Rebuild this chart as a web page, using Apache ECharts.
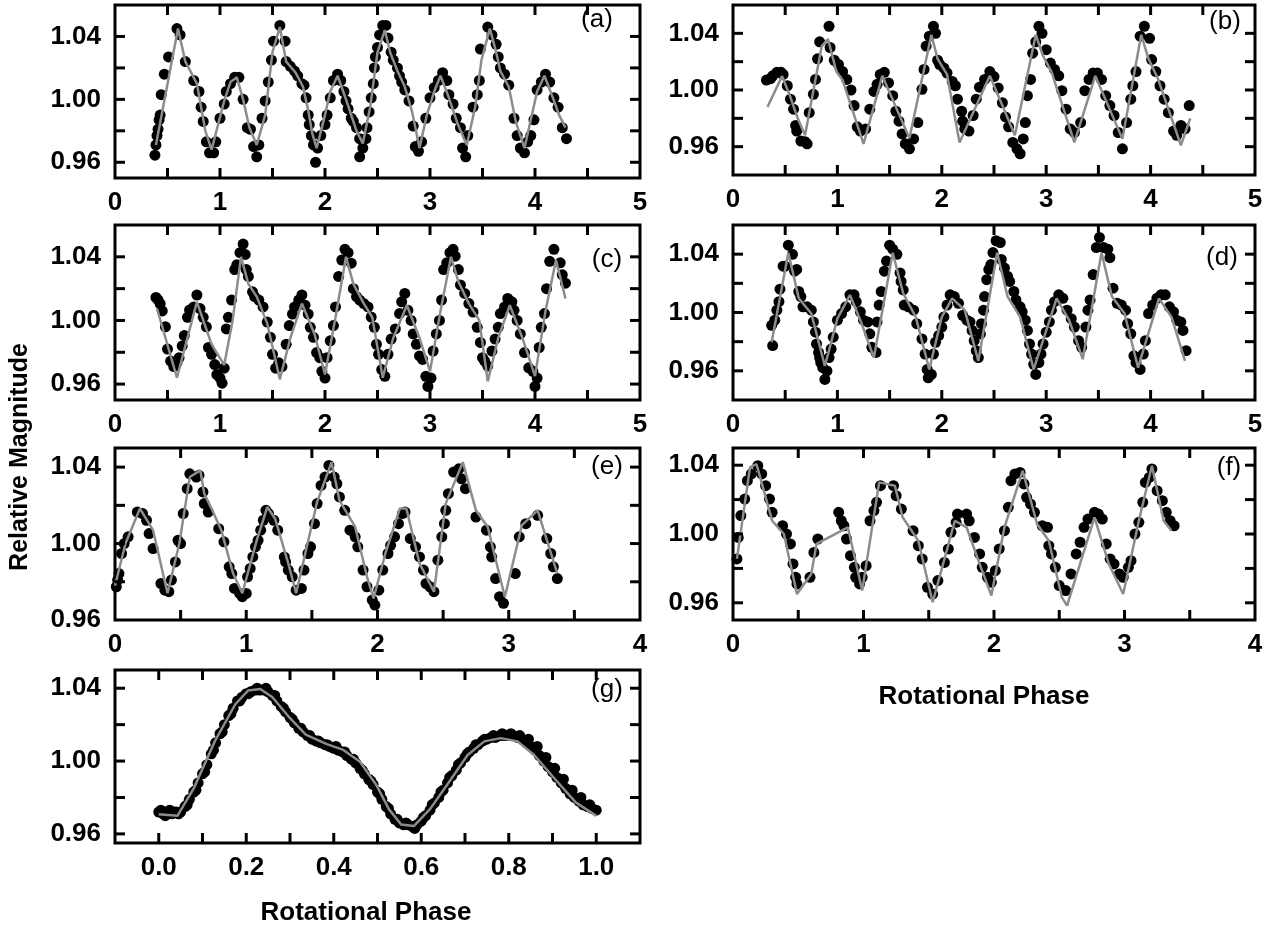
<!DOCTYPE html>
<html><head><meta charset="utf-8">
<script src="https://cdn.jsdelivr.net/npm/echarts@6/dist/echarts.min.js"></script>
<style>html,body{margin:0;padding:0;background:#fff}#c{width:1272px;height:928px}</style>
</head><body><div id="c"></div>
<script>
// ---------- DATA ----------
const aDots=[[0.38,0.9645],[0.39,0.971],[0.40,0.977],[0.41,0.981],[0.42,0.987],[0.43,0.990],[0.44,1.003],[0.47,1.016],[0.51,1.027],[0.59,1.045],[0.62,1.041],[0.67,1.024],[0.75,1.012],[0.80,1.005],[0.82,0.995],[0.84,0.986],[0.87,0.973],[0.90,0.966],[0.94,0.966],[0.96,0.973],[1.00,0.988],[1.04,0.997],[1.06,1.005],[1.10,1.010],[1.14,1.014],[1.18,1.014],[1.22,1.000],[1.26,0.982],[1.29,0.981],[1.32,0.970],[1.35,0.9635],[1.37,0.971],[1.40,0.988],[1.43,0.999],[1.46,1.011],[1.49,1.025],[1.51,1.037],[1.57,1.047],[1.62,1.037],[1.63,1.024],[1.67,1.021],[1.71,1.018],[1.74,1.015],[1.78,1.010],[1.80,1.009],[1.82,1.001],[1.84,0.990],[1.85,0.984],[1.87,0.977],[1.89,0.971],[1.91,0.960],[1.93,0.969],[1.96,0.977],[2.00,0.984],[2.02,0.990],[2.05,1.001],[2.08,1.012],[2.12,1.016],[2.15,1.012],[2.18,1.005],[2.20,0.999],[2.22,0.994],[2.25,0.988],[2.27,0.986],[2.30,0.982],[2.33,0.975],[2.33,0.9635],[2.36,0.969],[2.39,0.975],[2.40,0.982],[2.42,0.992],[2.44,1.001],[2.46,1.010],[2.47,1.020],[2.48,1.027],[2.50,1.033],[2.52,1.041],[2.55,1.047],[2.58,1.047],[2.60,1.039],[2.63,1.030],[2.65,1.025],[2.69,1.020],[2.71,1.015],[2.73,1.011],[2.76,1.006],[2.80,0.999],[2.84,0.983],[2.86,0.970],[2.89,0.967],[2.92,0.973],[2.96,0.988],[3.00,1.001],[3.04,1.0075],[3.08,1.012],[3.12,1.017],[3.16,1.012],[3.18,1.003],[3.22,0.997],[3.25,0.988],[3.29,0.982],[3.31,0.969],[3.34,0.9635],[3.36,0.977],[3.41,0.995],[3.45,1.003],[3.47,1.012],[3.48,1.032],[3.55,1.046],[3.59,1.041],[3.63,1.035],[3.65,1.027],[3.67,1.020],[3.71,1.016],[3.75,1.009],[3.80,0.988],[3.83,0.977],[3.86,0.969],[3.90,0.966],[3.93,0.973],[3.96,0.977],[3.99,0.987],[4.02,1.006],[4.06,1.011],[4.10,1.016],[4.14,1.011],[4.18,1.001],[4.22,0.995],[4.26,0.982],[4.30,0.975]];
const aFit=[[0.39,0.971],[0.6,1.045],[0.67,1.024],[0.78,1.01],[0.86,0.98],[0.92,0.968],[1.04,0.999],[1.1,1.011],[1.16,1.014],[1.22,1.0],[1.28,0.982],[1.35,0.971],[1.43,0.99],[1.5,1.03],[1.57,1.046],[1.63,1.024],[1.72,1.017],[1.79,1.008],[1.84,0.993],[1.88,0.978],[1.92,0.969],[2.0,0.99],[2.05,1.005],[2.12,1.015],[2.2,1.0],[2.26,0.988],[2.3,0.98],[2.36,0.972],[2.43,0.995],[2.5,1.03],[2.57,1.044],[2.62,1.03],[2.69,1.018],[2.76,1.008],[2.83,0.992],[2.9,0.969],[2.97,0.99],[3.04,1.005],[3.1,1.015],[3.18,1.001],[3.26,0.985],[3.35,0.971],[3.43,0.995],[3.49,1.025],[3.57,1.045],[3.63,1.03],[3.67,1.018],[3.75,1.008],[3.82,0.985],[3.9,0.969],[3.97,0.99],[4.02,1.005],[4.09,1.015],[4.17,1.001],[4.23,0.99],[4.29,0.982]];

const bDots=[[0.32,1.007],[0.36,1.008],[0.38,1.010],[0.42,1.0125],[0.46,1.0125],[0.48,1.011],[0.52,1.003],[0.55,0.9935],[0.58,0.9865],[0.60,0.975],[0.61,0.971],[0.65,0.964],[0.69,0.9635],[0.71,0.962],[0.73,0.984],[0.77,0.997],[0.79,1.0075],[0.81,1.022],[0.83,1.034],[0.92,1.045],[0.93,1.030],[0.97,1.021],[1.01,1.018],[1.05,1.013],[1.09,1.0075],[1.13,1.0],[1.16,0.989],[1.19,0.974],[1.22,0.971],[1.27,0.9725],[1.31,0.9865],[1.35,0.999],[1.38,1.004],[1.41,1.011],[1.45,1.0125],[1.49,1.005],[1.53,0.996],[1.56,0.985],[1.59,0.978],[1.62,0.969],[1.65,0.962],[1.69,0.9585],[1.73,0.9655],[1.77,0.977],[1.81,1.0005],[1.83,1.0145],[1.85,1.031],[1.88,1.038],[1.92,1.045],[1.94,1.040],[1.96,1.021],[1.98,1.018],[2.02,1.0155],[2.05,1.012],[2.10,1.006],[2.13,1.003],[2.15,0.9935],[2.19,0.985],[2.20,0.978],[2.22,0.9725],[2.26,0.971],[2.30,0.982],[2.33,0.9935],[2.36,1.002],[2.41,1.0075],[2.46,1.013],[2.50,1.0095],[2.54,1.0015],[2.58,0.991],[2.61,0.981],[2.64,0.974],[2.68,0.963],[2.72,0.9585],[2.75,0.955],[2.78,0.9655],[2.80,0.977],[2.82,0.996],[2.85,1.0075],[2.87,1.026],[2.90,1.034],[2.93,1.045],[2.96,1.040],[3.00,1.0285],[3.04,1.019],[3.08,1.0145],[3.12,1.010],[3.15,0.9995],[3.19,0.9865],[3.23,0.9725],[3.27,0.970],[3.33,0.977],[3.37,0.9995],[3.41,1.0075],[3.45,1.012],[3.49,1.012],[3.53,1.0075],[3.57,0.996],[3.61,0.989],[3.65,0.982],[3.69,0.970],[3.73,0.9585],[3.77,0.977],[3.81,0.9935],[3.83,1.003],[3.86,1.013],[3.90,1.038],[3.94,1.045],[3.99,1.0365],[4.01,1.0215],[4.05,1.013],[4.09,1.003],[4.13,0.9935],[4.17,0.984],[4.22,0.971],[4.25,0.968],[4.29,0.975],[4.33,0.9725],[4.37,0.989]];
const bFit=[[0.33,0.988],[0.47,1.0098],[0.55,0.995],[0.62,0.98],[0.69,0.968],[0.85,1.031],[0.91,1.036],[0.99,1.013],[1.05,1.007],[1.25,0.962],[1.43,1.01],[1.69,0.966],[1.9,1.039],[1.96,1.022],[2.05,1.011],[2.17,0.963],[2.46,1.01],[2.7,0.968],[2.9,1.039],[2.97,1.024],[3.05,1.013],[3.27,0.963],[3.47,1.01],[3.73,0.9655],[3.91,1.039],[3.98,1.022],[4.07,1.008],[4.29,0.961],[4.38,0.98]];

const cDots=[[0.39,1.0145],[0.41,1.013],[0.43,1.0105],[0.45,1.006],[0.48,0.996],[0.50,0.982],[0.53,0.9745],[0.56,0.971],[0.59,0.9735],[0.61,0.9765],[0.64,0.984],[0.66,0.9905],[0.69,1.002],[0.71,1.0065],[0.75,1.0085],[0.78,1.016],[0.81,1.0075],[0.84,1.002],[0.87,0.996],[0.89,0.983],[0.92,0.9787],[0.95,0.9723],[0.97,0.966],[1.00,0.9638],[1.02,0.9606],[1.04,0.970],[1.06,0.9947],[1.08,1.002],[1.11,1.0128],[1.14,1.032],[1.16,1.035],[1.19,1.0426],[1.22,1.048],[1.24,1.0415],[1.25,1.032],[1.27,1.0277],[1.31,1.018],[1.33,1.015],[1.37,1.0128],[1.41,1.0085],[1.45,0.999],[1.48,0.9894],[1.50,0.9787],[1.53,0.970],[1.56,0.9734],[1.59,0.971],[1.63,0.985],[1.66,0.9968],[1.69,1.004],[1.71,1.0085],[1.75,1.0128],[1.78,1.016],[1.81,1.0096],[1.84,1.004],[1.86,0.9957],[1.89,0.9894],[1.92,0.9798],[1.95,0.9766],[1.97,0.968],[2.0,0.9638],[2.02,0.9766],[2.05,0.9872],[2.08,0.9968],[2.10,1.0085],[2.13,1.0277],[2.16,1.038],[2.19,1.0447],[2.22,1.0426],[2.25,1.036],[2.27,1.02],[2.30,1.015],[2.33,1.0128],[2.37,1.0106],[2.41,1.0085],[2.44,1.0021],[2.47,0.9957],[2.49,0.985],[2.51,0.9787],[2.54,0.9691],[2.57,0.9649],[2.60,0.9787],[2.63,0.9883],[2.67,0.9947],[2.71,1.0043],[2.73,1.0117],[2.76,1.017],[2.79,1.0064],[2.82,1.0],[2.84,0.9915],[2.87,0.985],[2.90,0.9777],[2.93,0.9755],[2.96,0.9649],[2.98,0.9585],[3.01,0.9638],[3.03,0.9808],[3.06,0.9915],[3.09,1.0],[3.11,1.0128],[3.13,1.032],[3.16,1.0362],[3.19,1.0426],[3.22,1.0447],[3.24,1.0404],[3.27,1.032],[3.29,1.0223],[3.33,1.017],[3.37,1.0106],[3.41,1.0053],[3.45,0.9957],[3.48,0.9862],[3.50,0.9766],[3.52,0.9745],[3.55,0.9713],[3.59,0.9808],[3.62,0.9883],[3.65,0.9957],[3.67,1.0043],[3.71,1.0085],[3.74,1.0138],[3.78,1.0117],[3.80,1.0064],[3.83,1.0],[3.86,0.9915],[3.90,0.9798],[3.94,0.9702],[3.98,0.968],[4.0,0.9585],[4.02,0.9638],[4.04,0.983],[4.06,0.9957],[4.09,1.0043],[4.11,1.02],[4.14,1.0372],[4.18,1.0447],[4.24,1.0362],[4.26,1.0287],[4.29,1.0234]];
const cFit=[[0.40,1.0075],[0.59,0.964],[0.78,1.0117],[0.92,0.985],[1.04,0.972],[1.12,1.0],[1.2,1.04],[1.27,1.023],[1.35,1.015],[1.45,0.998],[1.57,0.963],[1.67,0.989],[1.78,1.0106],[1.9,0.9915],[2.0,0.966],[2.1,1.002],[2.2,1.04],[2.27,1.023],[2.37,1.0106],[2.45,1.002],[2.55,0.964],[2.65,0.989],[2.78,1.0096],[2.9,0.989],[3.0,0.968],[3.1,1.006],[3.2,1.04],[3.27,1.0245],[3.37,1.0106],[3.47,1.0],[3.55,0.9617],[3.65,0.989],[3.76,1.0096],[3.88,0.989],[4.0,0.965],[4.1,1.006],[4.2,1.038],[4.29,1.0138]];

const dDots=[[0.37,0.9912],[0.38,0.9773],[0.40,0.9947],[0.42,1.0016],[0.44,1.0074],[0.45,1.016],[0.48,1.0318],[0.50,1.0318],[0.53,1.0462],[0.57,1.0399],[0.59,1.0283],[0.61,1.0295],[0.63,1.0144],[0.65,1.0109],[0.67,1.0039],[0.71,1.0039],[0.75,1.0016],[0.77,0.9935],[0.79,0.9865],[0.80,0.9784],[0.82,0.9726],[0.83,0.9691],[0.84,0.9657],[0.86,0.9622],[0.88,0.9541],[0.90,0.9599],[0.92,0.9691],[0.94,0.9749],[0.96,0.9831],[1.0,0.9947],[1.04,0.9993],[1.08,1.0039],[1.12,1.0121],[1.16,1.0121],[1.18,1.0074],[1.22,1.0005],[1.25,0.9947],[1.29,0.9935],[1.31,0.9854],[1.33,0.9761],[1.37,0.9726],[1.38,0.9935],[1.40,1.0051],[1.42,1.0144],[1.45,1.0283],[1.47,1.0353],[1.50,1.0462],[1.53,1.0434],[1.57,1.0399],[1.60,1.0271],[1.61,1.0213],[1.63,1.0155],[1.64,1.0051],[1.68,1.0039],[1.73,1.0016],[1.76,0.9923],[1.81,0.9819],[1.84,0.9715],[1.86,0.961],[1.87,0.9552],[1.90,0.9575],[1.92,0.9715],[1.94,0.9796],[1.97,0.9842],[2.0,0.99],[2.02,0.997],[2.05,1.0051],[2.08,1.0121],[2.12,1.0109],[2.16,1.0063],[2.20,0.9981],[2.24,0.9947],[2.27,0.9935],[2.29,0.9877],[2.31,0.9807],[2.33,0.9738],[2.35,0.9691],[2.37,0.9854],[2.38,0.9923],[2.40,1.0016],[2.41,1.0109],[2.43,1.0225],[2.45,1.0295],[2.47,1.0329],[2.49,1.0411],[2.52,1.0492],[2.56,1.048],[2.57,1.0364],[2.60,1.0306],[2.63,1.0248],[2.65,1.0213],[2.69,1.0144],[2.71,1.0086],[2.75,1.0039],[2.77,1.0005],[2.80,0.9947],[2.82,0.9877],[2.84,0.9784],[2.86,0.9715],[2.88,0.9645],[2.90,0.9575],[2.93,0.9657],[2.95,0.9715],[2.97,0.9784],[3.0,0.9865],[3.03,0.9935],[3.05,1.0016],[3.08,1.0074],[3.12,1.0121],[3.16,1.0097],[3.20,1.0016],[3.24,0.9958],[3.27,0.99],[3.31,0.9807],[3.34,0.9761],[3.38,0.99],[3.40,1.0016],[3.42,1.0086],[3.45,1.026],[3.48,1.0445],[3.51,1.0515],[3.55,1.0445],[3.59,1.0434],[3.61,1.0376],[3.64,1.0167],[3.68,1.0063],[3.72,1.0051],[3.76,1.0016],[3.78,0.9923],[3.81,0.9854],[3.84,0.9703],[3.86,0.9657],[3.90,0.961],[3.93,0.9715],[3.95,0.9807],[3.98,0.9993],[4.02,1.0051],[4.06,1.0097],[4.10,1.0121],[4.14,1.0121],[4.18,1.0039],[4.22,1.0005],[4.25,0.9947],[4.29,0.9935],[4.31,0.9877],[4.34,0.9738]];
const dFit=[[0.37,0.9796],[0.53,1.041],[0.63,1.0097],[0.75,0.9993],[0.88,0.9633],[1.0,0.9958],[1.12,1.012],[1.22,0.9947],[1.35,0.9691],[1.53,1.041],[1.63,1.0132],[1.75,0.997],[1.88,0.961],[2.0,0.997],[2.1,1.0097],[2.22,1.0016],[2.35,0.9668],[2.53,1.041],[2.63,1.0109],[2.75,0.997],[2.88,0.961],[3.1,1.0097],[3.22,0.9947],[3.35,0.968],[3.53,1.041],[3.63,1.0109],[3.75,0.9993],[3.88,0.9622],[4.08,1.0097],[4.2,0.997],[4.33,0.9668]];

const eDots=[[0.01,0.9774],[0.02,0.9809],[0.03,0.9843],[0.05,0.9948],[0.07,1.0],[0.10,1.0035],[0.17,1.0165],[0.21,1.0157],[0.24,1.0122],[0.26,1.0052],[0.29,0.9974],[0.35,0.9791],[0.38,0.9756],[0.41,0.9748],[0.43,0.9809],[0.46,0.9904],[0.48,1.0017],[0.50,1.0],[0.52,1.0157],[0.55,1.0287],[0.57,1.0365],[0.62,1.0348],[0.64,1.0357],[0.67,1.027],[0.68,1.0209],[0.71,1.0165],[0.79,1.0078],[0.83,1.0009],[0.87,0.9878],[0.89,0.9843],[0.91,0.9765],[0.95,0.9739],[0.97,0.9722],[1.0,0.9739],[1.01,0.9826],[1.03,0.987],[1.05,0.993],[1.07,0.9983],[1.09,1.0017],[1.11,1.007],[1.13,1.0122],[1.15,1.0174],[1.17,1.0157],[1.21,1.0122],[1.24,1.007],[1.29,0.993],[1.30,0.9904],[1.32,0.9861],[1.35,0.9826],[1.38,0.9756],[1.42,0.9765],[1.44,0.9861],[1.47,0.9948],[1.49,0.9983],[1.52,1.0104],[1.54,1.0209],[1.57,1.0304],[1.60,1.0348],[1.63,1.0409],[1.67,1.0348],[1.69,1.0313],[1.71,1.0244],[1.75,1.0174],[1.79,1.007],[1.83,1.0035],[1.85,0.9983],[1.89,0.9861],[1.92,0.9774],[1.96,0.9704],[1.98,0.9678],[2.01,0.9756],[2.04,0.9861],[2.08,0.9948],[2.10,0.9991],[2.13,1.0035],[2.16,1.0104],[2.19,1.0157],[2.21,1.0165],[2.25,1.0026],[2.29,0.9983],[2.32,0.993],[2.35,0.9861],[2.37,0.9791],[2.40,0.9774],[2.43,0.9748],[2.46,0.9913],[2.49,1.0035],[2.51,1.0104],[2.52,1.0174],[2.54,1.0261],[2.58,1.0374],[2.62,1.0391],[2.64,1.0339],[2.67,1.0287],[2.75,1.0139],[2.83,1.007],[2.86,0.9983],[2.87,0.993],[2.90,0.9817],[2.93,0.9722],[2.96,0.9687],[3.05,0.9843],[3.08,1.0035],[3.13,1.0104],[3.22,1.0148],[3.29,1.0026],[3.32,0.9948],[3.34,0.9878],[3.37,0.9817]];
const eFit=[[0.0,0.978],[0.08,1.0],[0.19,1.0183],[0.29,1.007],[0.40,0.974],[0.49,1.0],[0.57,1.0348],[0.65,1.0383],[0.68,1.0261],[0.73,1.0191],[0.81,1.007],[0.90,0.9843],[0.97,0.974],[1.08,1.0017],[1.16,1.0191],[1.22,1.013],[1.32,0.9896],[1.38,0.974],[1.54,1.0218],[1.65,1.0426],[1.71,1.0226],[1.83,1.0087],[1.92,0.9826],[1.97,0.9713],[2.06,0.9948],[2.17,1.0183],[2.22,1.0183],[2.32,0.9896],[2.43,0.9748],[2.52,1.0209],[2.65,1.0426],[2.75,1.0174],[2.84,1.0087],[2.97,0.972],[3.10,1.0096],[3.22,1.0174],[3.37,0.9843]];

const fDots=[[0.03,0.9855],[0.04,0.998],[0.06,1.0107],[0.09,1.0203],[0.11,1.031],[0.14,1.0349],[0.19,1.0397],[0.22,1.0349],[0.25,1.0281],[0.28,1.0203],[0.30,1.0126],[0.38,1.0048],[0.41,1.0],[0.44,0.9942],[0.46,0.9826],[0.48,0.9748],[0.49,0.971],[0.59,0.9748],[0.62,0.9893],[0.65,0.9971],[0.81,1.0126],[0.83,1.0077],[0.85,1.0048],[0.87,0.9971],[0.90,0.9874],[0.93,0.9806],[0.94,0.9748],[0.97,0.971],[0.99,0.9748],[1.02,0.9816],[1.05,1.0077],[1.08,1.0136],[1.10,1.0184],[1.13,1.0281],[1.23,1.0281],[1.25,1.0223],[1.29,1.0145],[1.38,1.0019],[1.42,0.9932],[1.45,0.9855],[1.49,0.969],[1.53,0.9651],[1.57,0.9729],[1.62,0.9835],[1.65,0.9913],[1.67,1.001],[1.71,1.0068],[1.72,1.0116],[1.79,1.0116],[1.81,1.0077],[1.85,0.998],[1.89,0.9884],[1.91,0.9806],[1.95,0.9748],[1.98,0.9719],[2.01,0.9787],[2.04,0.9913],[2.08,1.0019],[2.11,1.0155],[2.13,1.031],[2.16,1.0349],[2.20,1.0358],[2.23,1.0291],[2.25,1.0213],[2.28,1.0174],[2.31,1.0126],[2.37,1.0048],[2.41,1.0039],[2.42,0.9932],[2.44,0.9884],[2.47,0.9806],[2.50,0.97],[2.55,0.9671],[2.59,0.9768],[2.63,0.9884],[2.66,0.9952],[2.69,1.0039],[2.72,1.0087],[2.77,1.0126],[2.80,1.0116],[2.83,1.0087],[2.86,0.9942],[2.89,0.9855],[2.92,0.9826],[2.96,0.9768],[2.99,0.9748],[3.03,0.9806],[3.05,0.9845],[3.08,1.0],[3.11,1.0068],[3.14,1.0184],[3.16,1.03],[3.19,1.0329],[3.21,1.0378],[3.25,1.0252],[3.29,1.0194],[3.32,1.0126],[3.35,1.0077],[3.38,1.0048]];
const fFit=[[0.03,0.9855],[0.07,1.0068],[0.13,1.0387],[0.18,1.0407],[0.30,1.0077],[0.39,1.0],[0.49,0.9651],[0.60,0.9768],[0.64,0.9942],[0.88,1.0039],[0.99,0.9671],[1.12,1.03],[1.24,1.0281],[1.30,1.0097],[1.42,0.9961],[1.53,0.9603],[1.70,1.0077],[1.79,1.0039],[1.89,0.9826],[1.98,0.9642],[2.08,1.0039],[2.22,1.0368],[2.33,1.0058],[2.42,0.9961],[2.52,0.9632],[2.56,0.9584],[2.77,1.0097],[2.88,0.9826],[2.99,0.9651],[3.11,1.0077],[3.21,1.0397],[3.30,1.0077],[3.36,1.0019]];

const gDots=[[0.00,0.972],[0.01,0.971],[0.02,0.972],[0.03,0.971],[0.04,0.972],[0.05,0.972],[0.06,0.975],[0.07,0.979],[0.08,0.983],[0.09,0.988],[0.10,0.993],[0.11,0.998],[0.12,1.004],[0.13,1.010],[0.14,1.015],[0.15,1.020],[0.16,1.025],[0.17,1.029],[0.18,1.033],[0.19,1.035],[0.20,1.037],[0.21,1.038],[0.22,1.039],[0.23,1.039],[0.24,1.039],[0.25,1.038],[0.26,1.036],[0.27,1.033],[0.28,1.030],[0.29,1.027],[0.30,1.024],[0.31,1.021],[0.32,1.018],[0.33,1.016],[0.34,1.014],[0.35,1.012],[0.36,1.011],[0.37,1.010],[0.38,1.009],[0.39,1.008],[0.40,1.007],[0.41,1.006],[0.42,1.005],[0.43,1.003],[0.44,1.001],[0.45,0.999],[0.46,0.996],[0.47,0.993],[0.48,0.990],[0.49,0.987],[0.50,0.983],[0.51,0.979],[0.52,0.975],[0.53,0.971],[0.54,0.968],[0.55,0.966],[0.56,0.965],[0.57,0.965],[0.58,0.964],[0.59,0.965],[0.60,0.967],[0.61,0.970],[0.62,0.973],[0.63,0.977],[0.64,0.980],[0.65,0.984],[0.66,0.988],[0.67,0.992],[0.68,0.995],[0.69,0.999],[0.70,1.002],[0.71,1.005],[0.72,1.007],[0.73,1.009],[0.74,1.011],[0.75,1.012],[0.76,1.013],[0.77,1.013],[0.78,1.014],[0.79,1.014],[0.80,1.014],[0.81,1.014],[0.82,1.013],[0.83,1.012],[0.84,1.010],[0.85,1.008],[0.86,1.006],[0.87,1.003],[0.88,1.000],[0.89,0.997],[0.90,0.994],[0.91,0.991],[0.92,0.988],[0.93,0.985],[0.94,0.982],[0.95,0.980],[0.96,0.978],[0.97,0.976],[0.98,0.975],[0.99,0.974],[1.00,0.973]];
const gDots2=[[0.005,0.973],[0.015,0.970],[0.025,0.973],[0.035,0.972],[0.045,0.971],[0.065,0.976],[0.085,0.984],[0.105,0.994],[0.125,1.006],[0.145,1.016],[0.165,1.026],[0.185,1.033],[0.205,1.037],[0.225,1.040],[0.245,1.040],[0.265,1.036],[0.285,1.029],[0.305,1.023],[0.325,1.018],[0.345,1.014],[0.365,1.011],[0.385,1.009],[0.405,1.008],[0.425,1.005],[0.445,1.001],[0.465,0.995],[0.485,0.989],[0.505,0.982],[0.525,0.974],[0.545,0.968],[0.565,0.966],[0.585,0.963],[0.605,0.969],[0.625,0.976],[0.645,0.983],[0.665,0.991],[0.685,0.998],[0.705,1.004],[0.725,1.009],[0.745,1.012],[0.765,1.014],[0.785,1.015],[0.805,1.015],[0.825,1.014],[0.845,1.012],[0.865,1.008],[0.885,1.002],[0.905,0.996],[0.925,0.990],[0.945,0.984],[0.965,0.980],[0.985,0.976]];
const gFit=[[0.0,0.9708],[0.043,0.970],[0.08,0.985],[0.128,1.0108],[0.175,1.0312],[0.204,1.0387],[0.232,1.0396],[0.26,1.035],[0.299,1.0238],[0.336,1.0145],[0.384,1.0093],[0.422,1.0061],[0.46,0.9996],[0.498,0.9866],[0.526,0.9736],[0.554,0.9652],[0.583,0.9643],[0.62,0.9736],[0.658,0.9866],[0.706,1.0033],[0.744,1.0108],[0.782,1.0126],[0.82,1.0108],[0.858,1.0033],[0.905,0.9903],[0.953,0.9773],[1.0,0.9699]];

const xTicks5=[0.5,1,1.5,2,2.5,3,3.5,4,4.5], xLabels5=[0,1,2,3,4,5];
const xTicks4=[0.5,1,1.5,2,2.5,3,3.5], xLabels4=[0,1,2,3,4];
const xTicksG=[0,0.1,0.2,0.3,0.4,0.5,0.6,0.7,0.8,0.9,1.0], xLabelsG=[0,0.2,0.4,0.6,0.8,1.0];
const yTicks=[0.96,0.98,1.00,1.02,1.04], yLabels=[0.96,1.00,1.04];
const panelNames=['(a)','(b)','(c)','(d)','(e)','(f)','(g)'];

// ---------- LAYOUT ----------
const panels=[
 {dots:[aDots],fit:aFit,L:115,T:5,W:525,H:173,x:[0,5],y:[0.95,1.06],xt:xTicks5,xl:xLabels5,dec:0,lx:597,ly:20},
 {dots:[bDots],fit:bFit,L:733,T:5,W:522,H:170,x:[0,5],y:[0.94,1.06],xt:xTicks5,xl:xLabels5,dec:0,lx:1225,ly:22},
 {dots:[cDots],fit:cFit,L:115,T:225,W:525,H:175,x:[0,5],y:[0.95,1.06],xt:xTicks5,xl:xLabels5,dec:0,lx:607,ly:260},
 {dots:[dDots],fit:dFit,L:733,T:225,W:522,H:175,x:[0,5],y:[0.94,1.06],xt:xTicks5,xl:xLabels5,dec:0,lx:1222,ly:258},
 {dots:[eDots],fit:eFit,L:115,T:448,W:525,H:172,x:[0,4],y:[0.96,1.05],xt:xTicks4,xl:xLabels4,dec:0,lx:607,ly:467},
 {dots:[fDots],fit:fFit,L:733,T:448,W:522,H:172,x:[0,4],y:[0.95,1.05],xt:xTicks4,xl:xLabels4,dec:0,lx:1229,ly:468},
 {dots:[gDots,gDots2],fit:gFit,L:115,T:670,W:525,H:173,x:[-0.1,1.1],y:[0.955,1.05],xt:xTicksG,xl:xLabelsG,dec:1,lx:607,ly:690}
];

const FONT='"Liberation Sans", Arial, sans-serif';
const lab={fontFamily:FONT,fontWeight:'bold',fontSize:26,color:'#000'};
const noLine={show:false,onZero:false};
const TL=10, TW=3; // tick length / width

const grid=[],xAxis=[],yAxis=[],series=[],graphic=[];
function tickSeries(i,data,size,offset){
  series.push({type:'scatter',xAxisIndex:2*i,yAxisIndex:2*i,data,symbol:'rect',symbolSize:size,symbolOffset:offset,
    itemStyle:{color:'#000',opacity:1},z:5,silent:true,clip:false});
}
panels.forEach((p,i)=>{
  grid.push({left:p.L,top:p.T,width:p.W,height:p.H,show:true,borderColor:'#000',borderWidth:3,backgroundColor:'transparent'});
  const xb={type:'value',gridIndex:i,min:p.x[0],max:p.x[1],splitLine:{show:false},axisLine:noLine,axisTick:{show:false}};
  xAxis.push(Object.assign({},xb,{position:'bottom',
    axisLabel:Object.assign({show:true,margin:12,customValues:p.xl,formatter:v=>Number(v).toFixed(p.dec)},lab)}));
  xAxis.push(Object.assign({},xb,{position:'top',axisLabel:{show:false}}));
  const yb={type:'value',gridIndex:i,min:p.y[0],max:p.y[1],splitLine:{show:false},axisLine:noLine,axisTick:{show:false}};
  yAxis.push(Object.assign({},yb,{position:'left',
    axisLabel:Object.assign({show:true,margin:14,customValues:yLabels,formatter:v=>Number(v).toFixed(2)},lab)}));
  yAxis.push(Object.assign({},yb,{position:'right',axisLabel:{show:false}}));
  p.dots.forEach(d=>series.push({type:'scatter',xAxisIndex:2*i,yAxisIndex:2*i,data:d,symbol:'circle',symbolSize:11,
    itemStyle:{color:'#000',opacity:1},z:2,silent:true}));
  series.push({type:'line',xAxisIndex:2*i,yAxisIndex:2*i,data:p.fit,showSymbol:false,
    lineStyle:{color:'#8c8c8c',width:2.5},z:3,silent:true});
  // inward ticks on all four sides, placed through the axes' own scales
  const yt=yTicks.filter(v=>v>p.y[0]&&v<p.y[1]);
  tickSeries(i,yt.map(v=>[p.x[0],v]),[TL,TW],[TL/2,0]);
  tickSeries(i,yt.map(v=>[p.x[1],v]),[TL,TW],[-TL/2,0]);
  tickSeries(i,p.xt.map(v=>[v,p.y[0]]),[TW,TL],[0,-TL/2]);
  tickSeries(i,p.xt.map(v=>[v,p.y[1]]),[TW,TL],[0,TL/2]);
  graphic.push({type:'text',x:p.lx,y:p.ly,style:{text:panelNames[i],font:'normal 26px '+FONT,fill:'#000',
    textAlign:'center',textVerticalAlign:'middle'}});
});
graphic.push({type:'text',x:20,y:457,rotation:Math.PI/2,style:{text:'Relative Magnitude',font:'bold 25px '+FONT,fill:'#000',textAlign:'center',textVerticalAlign:'middle'}});
graphic.push({type:'text',x:984,y:697,style:{text:'Rotational Phase',font:'bold 26px '+FONT,fill:'#000',textAlign:'center',textVerticalAlign:'middle'}});
graphic.push({type:'text',x:366,y:913,style:{text:'Rotational Phase',font:'bold 26px '+FONT,fill:'#000',textAlign:'center',textVerticalAlign:'middle'}});

const chart=echarts.init(document.getElementById('c'),null,{renderer:'canvas'});
chart.setOption({animation:false,backgroundColor:'#fff',grid,xAxis,yAxis,series,graphic});
</script></body></html>
